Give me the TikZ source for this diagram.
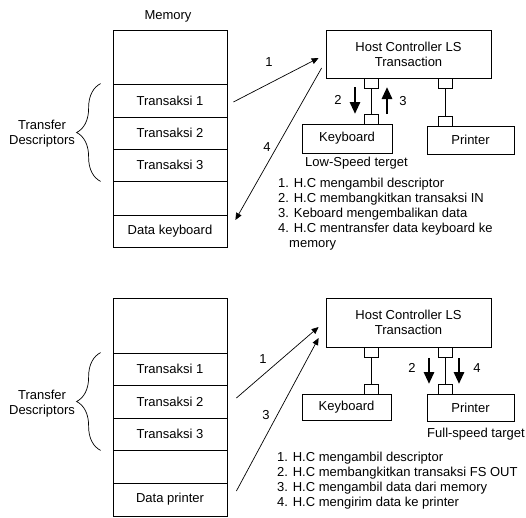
\documentclass[tikz,border=0pt]{standalone}
\usepackage{fontspec}
\setmainfont{Liberation Sans}
\usetikzlibrary{arrows.meta,calc,decorations.pathreplacing}

\begin{document}
\begin{tikzpicture}[x=1pt,y=-1pt,
  font=\fontsize{13}{15}\selectfont,
  cell/.style={draw,line width=0.8pt,minimum width=114pt,inner sep=0pt},
  box/.style={draw,line width=0.8pt,inner sep=0pt,align=center},
  port/.style={draw,line width=0.8pt,minimum width=14pt,minimum height=10pt,inner sep=0pt},
  link/.style={line width=0.8pt},
  thin arrow/.style={line width=0.7pt,-{Triangle[length=7pt,width=6pt]}},
  thick arrow/.style={line width=2.8pt,-{Triangle[length=12pt,width=10pt]}},
  lbl/.style={inner sep=0pt},
  listtext/.style={inner sep=0pt,align=left,anchor=north west},
  descbrace/.style={decorate,decoration={brace,amplitude=24pt,aspect=0.5},line width=0.7pt}
]
\useasboundingbox (0,0) rectangle (526,517);

% ---------- upper part: low-speed transfer ----------
\node[lbl] (memlabel) at (168,16) {Memory};
\node[cell,minimum height=54pt] (ua) at (170,57) {};
\node[cell,minimum height=33pt] (ut1) at (170,100.5) {Transaksi 1};
\node[cell,minimum height=32pt] (ut2) at (170,133) {Transaksi 2};
\node[cell,minimum height=32pt] (ut3) at (170,165) {Transaksi 3};
\node[cell,minimum height=34pt] (ub) at (170,198) {};
\node[cell,minimum height=32pt] (udk) at (170,231) {Data keyboard};

\draw[descbrace] ($(ut3.south west)+(-12,0)$) -- ($(ut1.north west)+(-12,0)$);
\node[lbl,align=center] (utd) at (42,134) {Transfer\\Descriptors};

\node[box,minimum width=165pt,minimum height=48pt] (uhost) at (408.5,54) {Host Controller LS\\Transaction};
\node[port] (uhp1) at (371,83) {};
\node[port] (uhp2) at (445,83) {};
\node[port] (ukp) at (371,119) {};
\node[port] (upp) at (445,121) {};
\node[box,minimum width=90pt,minimum height=29pt] (ukbd) at (347,138.5) {Keyboard};
\node[box,minimum width=87pt,minimum height=28pt] (uprn) at (470.5,140) {Printer};
\draw[link] (uhp1.south) -- (ukp.north);
\draw[link] (uhp2.south) -- (upp.north);

\coordinate (u2s) at (355,87);
\coordinate (u2e) at (355,114);
\coordinate (u3s) at (387,114);
\coordinate (u3e) at (387,87);
\draw[thick arrow] (u2s) -- (u2e);
\draw[thick arrow] (u3s) -- (u3e);
\node[lbl] (u2l) at (338,100) {2};
\node[lbl] (u3l) at (403,101) {3};

\draw[thin arrow] ($(ut1.east)+(6,1.5)$) -- ($(uhost.west)+(-7,4)$);
\draw[thin arrow] ($(uhost.west)+(-4,14)$) -- ($(udk.east)+(8,-11)$);
\node[lbl] (u1l) at (269,62) {1};
\node[lbl] (u4l) at (267,147) {4};

\node[lbl,anchor=west] (ulst) at (305,163) {Low-Speed terget};
\node[listtext] (ulist) at (278,177.5) {1. H.C mengambil descriptor\\
2. H.C membangkitkan transaksi IN\\
3. Keboard mengembalikan data\\
4. H.C mentransfer data keyboard ke\\
\hspace*{11pt}memory};

% ---------- lower part: full-speed transfer ----------
\node[cell,minimum height=55pt] (la) at (170,325.5) {};
\node[cell,minimum height=32pt] (lt1) at (170,369) {Transaksi 1};
\node[cell,minimum height=33pt] (lt2) at (170,401.5) {Transaksi 2};
\node[cell,minimum height=32pt] (lt3) at (170,434) {Transaksi 3};
\node[cell,minimum height=33pt] (lb) at (170,466.5) {};
\node[cell,minimum height=33pt] (ldp) at (170,499.5) {Data printer};

\draw[descbrace] ($(lt3.south west)+(-12,0)$) -- ($(lt1.north west)+(-12,0)$);
\node[lbl,align=center] (ltd) at (42,404) {Transfer\\Descriptors};

\node[box,minimum width=165pt,minimum height=49pt] (lhost) at (408.5,322.5) {Host Controller LS\\Transaction};
\node[port] (lhp1) at (371,352) {};
\node[port] (lhp2) at (445,352) {};
\node[port] (lkp) at (371,389) {};
\node[port] (lpp) at (445,389.5) {};
\node[box,minimum width=89pt,minimum height=26.5pt] (lkbd) at (346.5,407.3) {Keyboard};
\node[box,minimum width=87pt,minimum height=27pt] (lprn) at (470.5,407.5) {Printer};
\draw[link] (lhp1.south) -- (lkp.north);
\draw[link] (lhp2.south) -- (lpp.north);

\coordinate (l2s) at (429,358);
\coordinate (l2e) at (429,384);
\coordinate (l4s) at (459,358);
\coordinate (l4e) at (459,384);
\draw[thick arrow] (l2s) -- (l2e);
\draw[thick arrow] (l4s) -- (l4e);
\node[lbl] (l2l) at (412,368) {2};
\node[lbl] (l4l) at (477,368) {4};

\draw[thin arrow] ($(lt2.east)+(9,-3.5)$) -- ($(lhost.west)+(-7,4.5)$);
\draw[thin arrow] ($(ldp.east)+(9,-8.5)$) -- ($(lhost.west)+(-7,15.5)$);
\node[lbl] (l1l) at (263,359) {1};
\node[lbl] (l3l) at (266,415) {3};

\node[lbl,anchor=west] (lfst) at (427,434) {Full-speed target};
\node[listtext] (llist) at (277,451.5) {1. H.C mengambil descriptor\\
2. H.C membangkitkan transaksi FS OUT\\
3. H.C mengambil data dari memory\\
4. H.C mengirim data ke printer};
\end{tikzpicture}
\end{document}
